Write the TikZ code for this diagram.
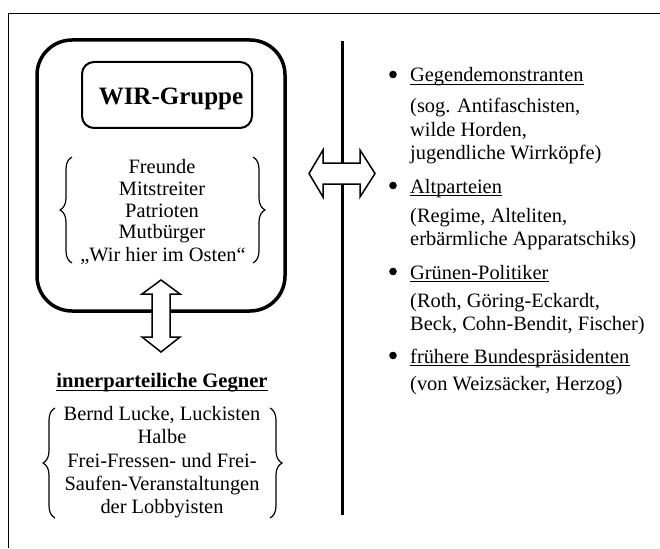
\documentclass[tikz,border=0pt]{standalone}
\usepackage{fontspec}
\setmainfont{Liberation Serif}
\usetikzlibrary{decorations.pathreplacing}
\begin{document}
\begin{tikzpicture}[x=1pt,y=-1pt,
  txt/.style={inner sep=0pt, font=\fontsize{20.4}{23.5}\selectfont},
  lefttxt/.style={txt, anchor=base},
  righttxt/.style={txt, anchor=base west},
  ul/.style={line width=1pt},
  bracestyle/.style={line width=1.2pt, decorate, decoration={brace, amplitude=12pt}},
  blockarrow/.style={draw=black, line width=1.5pt, fill=white, line join=miter},
  bul/.style={fill=black, draw=none}]
\useasboundingbox (0,0) rectangle (660,548);
% frame
\draw[line width=1.6pt, black] (8.5,548) -- (8.5,13.5) -- (660,13.5);
% outer rounded box
\draw[line width=3.5pt, rounded corners=35pt] (37,40) rectangle (285,311);
% inner box
\node[draw, line width=2pt, rounded corners=12pt, minimum width=170pt, minimum height=66pt, inner sep=0pt] (wirbox) at (167,95) {};
\node[lefttxt, font=\fontsize{25}{28}\selectfont\bfseries] (wirtext) at (171,105) {WIR-Gruppe};
% top list
\node[lefttxt] (l1) at (162,173) {Freunde};
\node[lefttxt] (l2) at (162,195) {Mitstreiter};
\node[lefttxt] (l3) at (162,217) {Patrioten};
\node[lefttxt] (l4) at (162,238) {Mutbürger};
\node[lefttxt] (l5) at (163,261) {„Wir hier im Osten“};
\coordinate (tlb1) at (72,263); \coordinate (tlb2) at (72,157);
\coordinate (trb1) at (253,157); \coordinate (trb2) at (253,263);
\draw[bracestyle] (tlb1) -- (tlb2);
\draw[bracestyle] (trb1) -- (trb2);
% vertical divider
\coordinate (vtop) at (342,41); \coordinate (vbot) at (342,515);
\draw[line width=3pt] (vtop) -- (vbot);
% vertical double arrow
\draw[blockarrow] (161,280) -- (180,294) -- (170,294) -- (170,337) -- (180,337) -- (161,352) -- (142,337) -- (152,337) -- (152,294) -- (142,294) -- cycle;
% horizontal double arrow
\draw[blockarrow] (309,173.5) -- (323,150) -- (323,163) -- (360,163) -- (360,150) -- (375,173.5) -- (360,197) -- (360,184) -- (323,184) -- (323,197) -- cycle;
% bottom heading
\node[lefttxt, font=\fontsize{20.6}{24}\selectfont\bfseries] (gegner) at (162,387) {innerparteiliche Gegner};
\draw[line width=1.2pt] ([yshift=-3.5pt]gegner.base west) -- ([yshift=-3.5pt]gegner.base east);
% bottom list
\node[lefttxt] (b1) at (162,420) {Bernd Lucke, Luckisten};
\node[lefttxt] (b2) at (162,443) {Halbe};
\node[lefttxt] (b3) at (162,467) {Frei-Fressen- und Frei-};
\node[lefttxt] (b4) at (162,490) {Saufen-Veranstaltungen};
\node[lefttxt] (b5) at (162,513) {der Lobbyisten};
\coordinate (blb1) at (55,518); \coordinate (blb2) at (55,408);
\coordinate (brb1) at (270,408); \coordinate (brb2) at (270,518);
\draw[bracestyle] (blb1) -- (blb2);
\draw[bracestyle] (brb1) -- (brb2);
% right list
\node[righttxt] (h1) at (410,82) {Gegendemonstranten};
\node[righttxt] (s1a) at (410,113) {(sog. Antifaschisten,};
\node[righttxt] (s1b) at (410,137) {wilde Horden,};
\node[righttxt] (s1c) at (410,160) {jugendliche Wirrköpfe)};
\node[righttxt] (h2) at (410,193) {Altparteien};
\node[righttxt] (s2a) at (410,222) {(Regime, Alteliten,};
\node[righttxt] (s2b) at (410,245) {erbärmliche Apparatschiks)};
\node[righttxt] (h3) at (410,279) {Grünen-Politiker};
\node[righttxt] (s3a) at (410,307) {(Roth, Göring-Eckardt,};
\node[righttxt] (s3b) at (410,330) {Beck, Cohn-Bendit, Fischer)};
\node[righttxt] (h4) at (410,363) {frühere Bundespräsidenten};
\node[righttxt] (s4a) at (410,390) {(von Weizsäcker, Herzog)};
\foreach \h in {h1,h2,h3,h4}{
  \draw[ul] ([yshift=-2.5pt]\h.base west) -- ([yshift=-2.5pt]\h.base east);
  \fill[bul] ([xshift=-17pt,yshift=7.5pt]\h.base west) circle (3.8pt);
}
\end{tikzpicture}
\end{document}
